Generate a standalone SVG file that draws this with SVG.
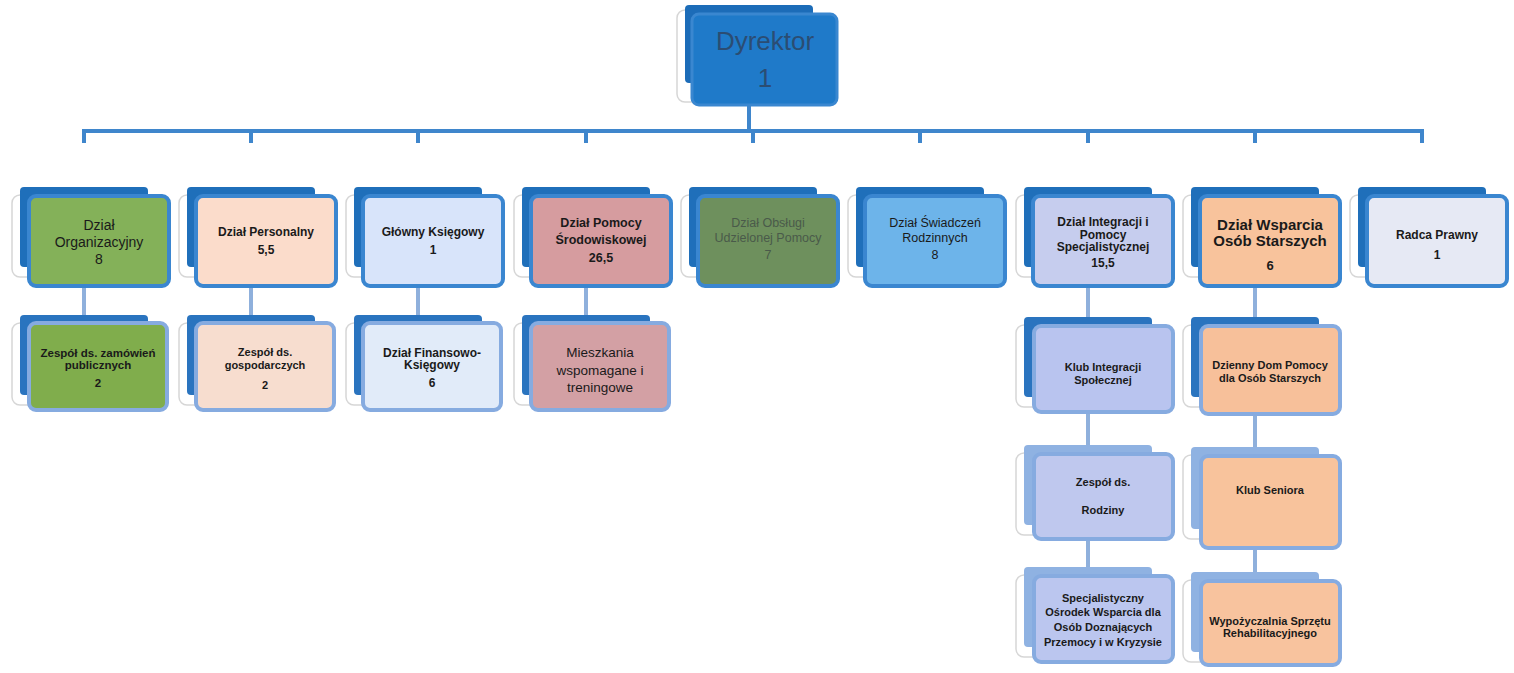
<svg xmlns="http://www.w3.org/2000/svg" width="1514" height="673" viewBox="0 0 1514 673">
<defs>
<style>
.sh{fill:#ffffff;stroke:#d6d6d6;stroke-width:1.5}
.bk{fill:#1f6fba}
.bk2{fill:#2a74bf}
.bk3{fill:#8fb2e2}
.fr{stroke:#3a86d0;stroke-width:4}
.fr2{stroke:#86abe0;stroke-width:4}
.t{font-family:"Liberation Sans",Arial,sans-serif;text-anchor:middle;fill:#1a1a1a}
.b{font-weight:bold}
.bus{fill:none;stroke:#3f86cc;stroke-width:4}
.sub{fill:none;stroke:#8fb0dc;stroke-width:4}
</style>
</defs>
<rect width="1514" height="673" fill="#ffffff"/>

<g id="connectors">
<path class="bus" d="M84,143 V131 H1422 V143"/>
<path class="bus" d="M749,105 V131 M251,131 V143 M418,131 V143 M586,131 V143 M753,131 V143 M920,131 V143 M1088,131 V143 M1255,131 V143"/>
<path class="sub" d="M84,288 V316 M251,288 V316 M418,288 V316 M586,288 V316 M1088,288 V318 M1255,288 V318"/>
<path class="sub" d="M1088,412 V446 M1255,414 V448 M1088,539 V568 M1255,550 V573"/>
</g>

<g id="dyrektor">
<rect x="677" y="10" width="60" height="92" rx="8" class="sh"/>
<rect x="685" y="5" width="128" height="78" rx="4" fill="#1c6cb8"/>
<rect x="692" y="14" width="145" height="91" rx="7" fill="#1f7ac9" stroke="#3a87d0" stroke-width="3"/>
<text class="t" x="765" y="50" font-size="26" style="fill:#2b4d73">Dyrektor</text>
<text class="t" x="765" y="87" font-size="26" style="fill:#2b4d73">1</text>
</g>

<g id="n1">
<rect x="12" y="195" width="60" height="82" rx="8" class="sh"/>
<rect x="20" y="187" width="128" height="80" rx="4" class="bk"/>
<rect x="29" y="196" width="140" height="90" rx="7" class="fr" fill="#84b159"/>
<text class="t" font-size="14"><tspan x="99" y="230">Dział</tspan><tspan x="99" y="247">Organizacyjny</tspan><tspan x="99" y="264">8</tspan></text>
</g>

<g id="n2">
<rect x="179" y="195" width="60" height="82" rx="8" class="sh"/>
<rect x="187" y="187" width="128" height="80" rx="4" class="bk"/>
<rect x="196" y="196" width="140" height="90" rx="7" class="fr" fill="#fbdccb"/>
<text class="t b" font-size="12"><tspan x="266" y="236">Dział Personalny</tspan><tspan x="266" y="254">5,5</tspan></text>
</g>

<g id="n3">
<rect x="346" y="195" width="60" height="82" rx="8" class="sh"/>
<rect x="354" y="187" width="128" height="80" rx="4" class="bk"/>
<rect x="363" y="196" width="140" height="90" rx="7" class="fr" fill="#d8e4fa"/>
<text class="t b" font-size="12"><tspan x="433" y="236">Główny Księgowy</tspan><tspan x="433" y="254">1</tspan></text>
</g>

<g id="n4">
<rect x="514" y="195" width="60" height="82" rx="8" class="sh"/>
<rect x="522" y="187" width="128" height="80" rx="4" class="bk"/>
<rect x="531" y="196" width="140" height="90" rx="7" class="fr" fill="#d69c9f"/>
<text class="t b" font-size="12.5"><tspan x="601" y="227">Dział Pomocy</tspan><tspan x="601" y="244">Środowiskowej</tspan><tspan x="601" y="262">26,5</tspan></text>
</g>

<g id="n5">
<rect x="681" y="195" width="60" height="82" rx="8" class="sh"/>
<rect x="689" y="187" width="128" height="80" rx="4" class="bk"/>
<rect x="698" y="196" width="140" height="90" rx="7" class="fr" fill="#6e905d"/>
<text class="t" font-size="12.5" style="fill:#4a5a4a"><tspan x="768" y="227">Dział Obsługi</tspan><tspan x="768" y="242">Udzielonej Pomocy</tspan><tspan x="768" y="259">7</tspan></text>
</g>

<g id="n6">
<rect x="848" y="195" width="60" height="82" rx="8" class="sh"/>
<rect x="856" y="187" width="128" height="80" rx="4" class="bk"/>
<rect x="865" y="196" width="140" height="90" rx="7" class="fr" fill="#6db4ea"/>
<text class="t" font-size="12.5"><tspan x="935" y="227">Dział Świadczeń</tspan><tspan x="935" y="242">Rodzinnych</tspan><tspan x="935" y="259">8</tspan></text>
</g>

<g id="n7">
<rect x="1016" y="195" width="60" height="82" rx="8" class="sh"/>
<rect x="1024" y="187" width="128" height="80" rx="4" class="bk"/>
<rect x="1033" y="196" width="140" height="90" rx="7" class="fr" fill="#c6cdee"/>
<text class="t b" font-size="12"><tspan x="1103" y="226">Dział Integracji i</tspan><tspan x="1103" y="239">Pomocy</tspan><tspan x="1103" y="251">Specjalistycznej</tspan><tspan x="1103" y="267">15,5</tspan></text>
</g>

<g id="n8">
<rect x="1183" y="195" width="60" height="82" rx="8" class="sh"/>
<rect x="1191" y="187" width="128" height="80" rx="4" class="bk"/>
<rect x="1200" y="196" width="140" height="90" rx="7" class="fr" fill="#f8c39c"/>
<text class="t b" font-size="15"><tspan x="1270" y="230">Dział Wsparcia</tspan><tspan x="1270" y="246">Osób Starszych</tspan><tspan x="1270" y="270" font-size="13">6</tspan></text>
</g>

<g id="n9">
<rect x="1350" y="195" width="60" height="82" rx="8" class="sh"/>
<rect x="1358" y="187" width="128" height="80" rx="4" class="bk"/>
<rect x="1367" y="196" width="140" height="90" rx="7" class="fr" fill="#e6e9f4"/>
<text class="t b" font-size="12"><tspan x="1437" y="239">Radca Prawny</tspan><tspan x="1437" y="259">1</tspan></text>
</g>

<g id="s1">
<rect x="12" y="323" width="60" height="82" rx="8" class="sh"/>
<rect x="20" y="315" width="128" height="80" rx="4" class="bk2"/>
<rect x="29" y="323" width="138" height="87" rx="7" class="fr2" fill="#80ad4c"/>
<text class="t b" font-size="11.5"><tspan x="98" y="357">Zespół ds. zamówień</tspan><tspan x="98" y="369">publicznych</tspan><tspan x="98" y="387">2</tspan></text>
</g>

<g id="s2">
<rect x="179" y="323" width="60" height="82" rx="8" class="sh"/>
<rect x="187" y="315" width="128" height="80" rx="4" class="bk2"/>
<rect x="196" y="323" width="138" height="87" rx="7" class="fr2" fill="#f7ddcf"/>
<text class="t b" font-size="11"><tspan x="265" y="356">Zespół ds.</tspan><tspan x="265" y="369">gospodarczych</tspan><tspan x="265" y="389">2</tspan></text>
</g>

<g id="s3">
<rect x="346" y="323" width="60" height="82" rx="8" class="sh"/>
<rect x="354" y="315" width="128" height="80" rx="4" class="bk2"/>
<rect x="363" y="323" width="138" height="87" rx="7" class="fr2" fill="#e1ebf9"/>
<text class="t b" font-size="12"><tspan x="432" y="357">Dział Finansowo-</tspan><tspan x="432" y="369">Księgowy</tspan><tspan x="432" y="387">6</tspan></text>
</g>

<g id="s4">
<rect x="514" y="323" width="60" height="82" rx="8" class="sh"/>
<rect x="522" y="315" width="128" height="80" rx="4" class="bk2"/>
<rect x="531" y="323" width="138" height="87" rx="7" class="fr2" fill="#d3a0a4"/>
<text class="t" font-size="13.5"><tspan x="600" y="357">Mieszkania</tspan><tspan x="600" y="375">wspomagane i</tspan><tspan x="600" y="392">treningowe</tspan></text>
</g>

<g id="s7a">
<rect x="1016" y="325" width="60" height="82" rx="8" class="sh"/>
<rect x="1024" y="317" width="128" height="80" rx="4" class="bk2"/>
<rect x="1034" y="326" width="139" height="86" rx="7" class="fr2" fill="#b9c4ef"/>
<text class="t b" font-size="11"><tspan x="1103" y="371">Klub Integracji</tspan><tspan x="1103" y="384">Społecznej</tspan></text>
</g>

<g id="s7b">
<rect x="1016" y="453" width="60" height="82" rx="8" class="sh"/>
<rect x="1024" y="445" width="128" height="80" rx="4" class="bk3"/>
<rect x="1034" y="454" width="139" height="85" rx="7" class="fr2" fill="#bfc8ee"/>
<text class="t b" font-size="11"><tspan x="1103" y="486">Zespół ds.</tspan><tspan x="1103" y="514">Rodziny</tspan></text>
</g>

<g id="s7c">
<rect x="1016" y="575" width="60" height="82" rx="8" class="sh"/>
<rect x="1024" y="567" width="128" height="80" rx="4" class="bk3"/>
<rect x="1034" y="576" width="139" height="86" rx="7" class="fr2" fill="#bbc6ef"/>
<text class="t b" font-size="11"><tspan x="1103" y="602">Specjalistyczny</tspan><tspan x="1103" y="616">Ośrodek Wsparcia dla</tspan><tspan x="1103" y="631">Osób Doznających</tspan><tspan x="1103" y="646">Przemocy i w Kryzysie</tspan></text>
</g>

<g id="s8a">
<rect x="1183" y="325" width="60" height="82" rx="8" class="sh"/>
<rect x="1191" y="317" width="128" height="80" rx="4" class="bk2"/>
<rect x="1201" y="326" width="139" height="88" rx="7" class="fr2" fill="#f7c09a"/>
<text class="t b" font-size="11"><tspan x="1270" y="369">Dzienny Dom Pomocy</tspan><tspan x="1270" y="382">dla Osób Starszych</tspan></text>
</g>

<g id="s8b">
<rect x="1183" y="455" width="60" height="84" rx="8" class="sh"/>
<rect x="1191" y="447" width="128" height="82" rx="4" class="bk3"/>
<rect x="1201" y="456" width="139" height="92" rx="7" class="fr2" fill="#f8c39c"/>
<text class="t b" font-size="11"><tspan x="1270" y="494">Klub Seniora</tspan></text>
</g>

<g id="s8c">
<rect x="1183" y="580" width="60" height="82" rx="8" class="sh"/>
<rect x="1191" y="572" width="128" height="80" rx="4" class="bk3"/>
<rect x="1201" y="581" width="139" height="84" rx="7" class="fr2" fill="#f8c39e"/>
<text class="t b" font-size="11"><tspan x="1270" y="625">Wypożyczalnia Sprzętu</tspan><tspan x="1270" y="637">Rehabilitacyjnego</tspan></text>
</g>
</svg>
